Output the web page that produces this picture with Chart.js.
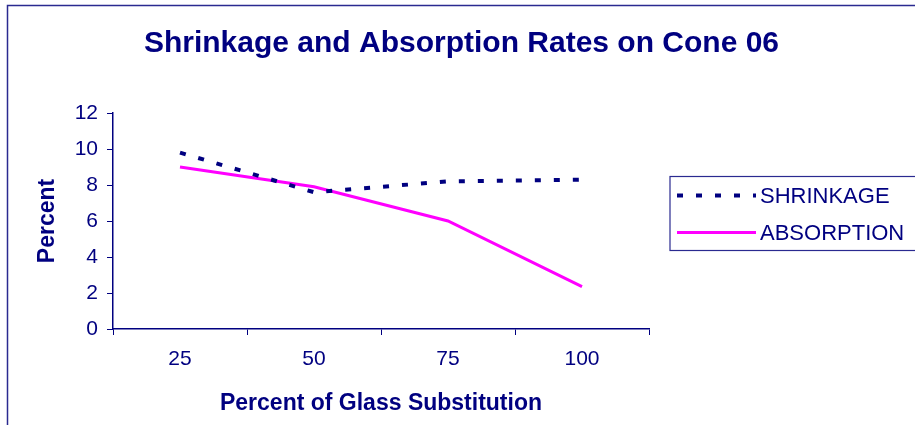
<!DOCTYPE html>
<html>
<head>
<meta charset="utf-8">
<script src="https://cdn.jsdelivr.net/npm/chart.js@4"></script>
<style>
  html, body { margin: 0; padding: 0; background: #fff; }
  #wrap { width: 915px; height: 425px; }
</style>
</head>
<body>
<div id="wrap"><canvas id="cone"></canvas></div>
<script>
// values
const glassPct = ['25', '50', '75', '100'];
const shrinkage = [9.8, 7.6, 8.2, 8.3];
const absorption = [9.0, 7.9, 6.0, 2.35];
const yTicks = [0, 2, 4, 6, 8, 10, 12];

const NAVY = '#000080';
const FONT = '"Liberation Sans", Arial, sans-serif';

// outer chart frame + boxed legend, drawn like the spreadsheet original
const frameAndLegend = {
    id: 'frameAndLegend',
    beforeDraw(chart) {
        const ctx = chart.ctx;
        ctx.save();
        ctx.fillStyle = '#fff';
        ctx.fillRect(0, 0, chart.width, chart.height);
        ctx.strokeStyle = '#2a2a90';
        ctx.lineWidth = 1.5;
        ctx.strokeRect(7.5, 5.5, chart.width + 20, chart.height + 20);
        ctx.restore();
    },
    afterDraw(chart) {
        const ctx = chart.ctx;
        const area = chart.chartArea;
        const left = area.right + 21;
        const top = 176.5;
        const rowH = 37;
        ctx.save();
        ctx.strokeStyle = '#2a2a90';
        ctx.lineWidth = 1.2;
        ctx.strokeRect(left, top, chart.width, rowH * chart.data.datasets.length);
        ctx.font = '22px ' + FONT;
        ctx.textBaseline = 'middle';
        chart.data.datasets.forEach((ds, i) => {
            const y = top + 19 + i * rowH;
            ctx.beginPath();
            ctx.strokeStyle = ds.borderColor;
            ctx.lineWidth = ds.borderWidth;
            ctx.setLineDash(ds.borderDash || []);
            ctx.moveTo(left + 7, y);
            ctx.lineTo(left + 86, y);
            ctx.stroke();
            ctx.setLineDash([]);
            ctx.fillStyle = NAVY;
            ctx.fillText(ds.label, left + 90, y + 1);
        });
        ctx.restore();
    }
};

const ctx = document.getElementById('cone').getContext('2d');
new Chart(ctx, {
    type: 'line',
    data: {
        labels: glassPct,
        datasets: [
            {
                label: 'SHRINKAGE',
                data: shrinkage,
                borderColor: NAVY,
                borderWidth: 4,
                borderDash: [6, 13],
                pointRadius: 0,
                tension: 0,
            },
            {
                label: 'ABSORPTION',
                data: absorption,
                borderColor: '#ff00ff',
                borderWidth: 3,
                pointRadius: 0,
                tension: 0,
            },
        ],
    },
    options: {
        responsive: true,
        maintainAspectRatio: false,
        animation: false,
        layout: { padding: { left: 8, right: 0, top: 0, bottom: 0 } },
        plugins: {
            legend: { display: false },
            tooltip: { enabled: false },
            title: {
                display: true,
                text: 'Shrinkage and Absorption Rates on Cone 06',
                color: NAVY,
                font: { family: FONT, size: 30, weight: 'bold' },
                padding: { top: 26, bottom: 51 },
            },
        },
        scales: {
            x: {
                type: 'category',
                offset: true,
                grid: { offset: true, drawOnChartArea: false, color: NAVY, tickLength: 6, tickWidth: 1 },
                border: { color: NAVY, width: 1.5 },
                ticks: {
                    color: NAVY,
                    padding: 12,
                    font: { family: FONT, size: 21 },
                },
                title: {
                    display: true,
                    text: 'Percent of Glass Substitution',
                    color: NAVY,
                    font: { family: FONT, size: 23, weight: 'bold' },
                    padding: { top: 0, bottom: 8 },
                },
                afterFit: s => { s.height = 96; },
            },
            y: {
                min: 0,
                max: 12,
                afterBuildTicks: s => { s.ticks = yTicks.map(v => ({ value: v })); },
                grid: { drawOnChartArea: false, color: NAVY, tickLength: 6, tickWidth: 1 },
                border: { color: NAVY, width: 1.5 },
                ticks: {
                    color: NAVY,
                    padding: 9,
                    font: { family: FONT, size: 21 },
                },
                title: {
                    display: true,
                    text: 'Percent',
                    color: NAVY,
                    font: { family: FONT, size: 23, weight: 'bold' },
                    padding: { top: 26, bottom: 0 },
                },
                afterFit: s => { s.width = 105; },
            },
            // empty right axis only reserves room for the boxed legend
            side: {
                position: 'right',
                display: true,
                grid: { display: false },
                border: { display: false },
                ticks: { display: false },
                afterFit: s => { s.width = 266; },
            },
        },
    },
    plugins: [frameAndLegend],
});
</script>
</body>
</html>
